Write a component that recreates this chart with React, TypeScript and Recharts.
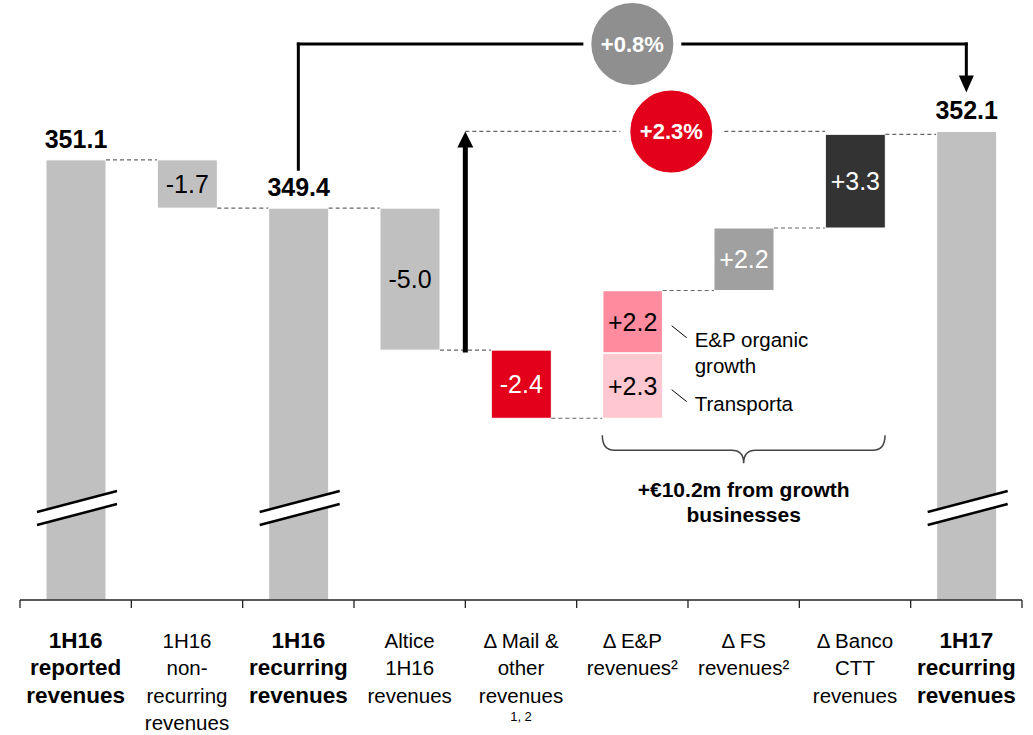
import React from "react";
import { BarChart, Bar, XAxis, YAxis, ReferenceLine, ReferenceDot } from "recharts";

// one entry per column
const categories = [
  "1H16 reported revenues",
  "1H16 non-recurring revenues",
  "1H16 recurring revenues",
  "Altice 1H16 revenues",
  "Δ Mail & other revenues",
  "Δ E&P revenues",
  "Δ FS revenues",
  "Δ Banco CTT revenues",
  "1H17 recurring revenues",
];
const tickLines = [
  ["1H16", "reported", "revenues"],
  ["1H16", "non-", "recurring", "revenues"],
  ["1H16", "recurring", "revenues"],
  ["Altice", "1H16", "revenues"],
  ["Δ Mail &", "other", "revenues"],
  ["Δ E&P", "revenues²"],
  ["Δ FS", "revenues²"],
  ["Δ Banco", "CTT", "revenues"],
  ["1H17", "recurring", "revenues"],
];
const tickNotes = ["", "", "", "", "1, 2", "", "", "", ""];

// €m
const totals = [351.1, null, 349.4, null, null, null, null, null, 352.1];
const deltas = [null, -1.7, null, -5.0, -2.4, 2.3, 2.2, 3.3, null];
const stackedDeltas = [null, null, null, null, null, 2.2, null, null, null];
const deltaNotes = ["", "", "", "", "", "Transporta", "", "", ""];
const stackedNotes = ["", "", "", "", "", "E&P organic|growth", "", "", ""];

const growthTotal = "+0.8%";
const growthExAltice = "+2.3%";
const growthNote = ["+€10.2m from growth", "businesses"];

const segColors = ["#C0C0C0", "#C0C0C0", "#C0C0C0", "#C0C0C0", "#E2001A", "#FFC7CF", "#A0A0A0", "#333333", "#C0C0C0"];
const segText = ["#000", "#000", "#000", "#000", "#fff", "#000", "#fff", "#fff", "#000"];
const stackedColor = "#FF8C9E";

const W = 1033;
const H = 735;
const MARGIN = { top: 0, right: 11, bottom: 0, left: 20 };
const AXIS_H = 135;
const BAR = 60;
const STEP = (W - MARGIN.left - MARGIN.right) / categories.length;
const Y_MIN = 335.6; // axis is broken below this
const Y_MAX = 356.73;
const ARROW_LEVEL = 355.18;
const LABEL_CLEAR = 1.37;
const FONT = '"Liberation Sans", Arial, Helvetica, sans-serif';

let level = 0;
const rows = categories.map((name, i) => {
  const t = totals[i];
  const d = deltas[i] ?? 0;
  const e = stackedDeltas[i] ?? 0;
  let base = 0;
  let seg1 = 0;
  let seg2 = 0;
  if (t !== null) {
    base = Y_MIN;
    seg1 = t - Y_MIN;
    level = t;
  } else if (d < 0) {
    base = level + d;
    seg1 = -d;
    level = base;
  } else {
    base = level;
    seg1 = d;
    seg2 = e;
    level = base + d + e;
  }
  return { name, idx: i, base, seg1, seg2, end: level };
});

const fmt = (v: number) => (v > 0 ? "+" : "") + v.toFixed(1);

function SideNote({ x, cy, text }: { x: number; cy: number; text: string }) {
  const lines = text.split("|");
  return (
    <g>
      <line x1={x + 9} y1={cy + 4} x2={x + 24} y2={cy + 16} stroke="#000" strokeWidth={1} />
      <text x={x + 32} y={cy + 25} fontSize={20.5} fontFamily={FONT} fill="#000">
        {lines.map((l, k) => (
          <tspan key={k} x={x + 32} dy={k === 0 ? 0 : 26}>
            {l}
          </tspan>
        ))}
      </text>
    </g>
  );
}

function BreakMark({ x, width, bottom }: { x: number; width: number; bottom: number }) {
  const l = x - 9;
  const r = x + width + 11;
  const y = bottom - 88;
  return (
    <g>
      <polygon points={`${l},${y} ${r},${y - 21} ${r},${y - 8} ${l},${y + 13}`} fill="#fff" />
      <line x1={l} y1={y} x2={r} y2={y - 21} stroke="#000" strokeWidth={2.5} />
      <line x1={l} y1={y + 13} x2={r} y2={y - 8} stroke="#000" strokeWidth={2.5} />
    </g>
  );
}

function SegShape(props: any) {
  const { x, y, width, height, payload } = props;
  const i = payload.idx;
  const isTotal = totals[i] !== null;
  const d = deltas[i] ?? 0;
  const cx = x + width / 2;
  const endY = isTotal || d > 0 ? y : y + height;
  const connector = i < categories.length - 1 && !(payload.seg2 > 0);
  return (
    <g>
      <rect x={x} y={y} width={width} height={height} fill={segColors[i]} stroke="#fff" strokeWidth={1} />
      {isTotal && <BreakMark x={x} width={width} bottom={y + height} />}
      {isTotal ? (
        <text x={cx} y={y - 12} textAnchor="middle" fontSize={25} fontWeight={700} fontFamily={FONT} fill="#000">
          {(totals[i] as number).toFixed(1)}
        </text>
      ) : (
        <text x={cx} y={y + height / 2} dy="0.36em" textAnchor="middle" fontSize={25} fontFamily={FONT} fill={segText[i]}>
          {fmt(d)}
        </text>
      )}
      {connector && (
        <line x1={x + width} x2={x + STEP} y1={endY} y2={endY} stroke="#666" strokeWidth={1.2} strokeDasharray="4 3" />
      )}
      {deltaNotes[i] && <SideNote x={x + width} cy={y + height / 2} text={deltaNotes[i]} />}
    </g>
  );
}

function StackShape(props: any) {
  const { x, y, width, height, payload } = props;
  if (!payload || !(payload.seg2 > 0)) return <g />;
  const i = payload.idx;
  const cx = x + width / 2;
  return (
    <g>
      <rect x={x} y={y} width={width} height={height} fill={stackedColor} stroke="#fff" strokeWidth={1.5} />
      <text x={cx} y={y + height / 2} dy="0.36em" textAnchor="middle" fontSize={25} fontFamily={FONT} fill="#000">
        {fmt(stackedDeltas[i] as number)}
      </text>
      <line x1={x + width} x2={x + STEP} y1={y} y2={y} stroke="#666" strokeWidth={1.2} strokeDasharray="4 3" />
      {stackedNotes[i] && <SideNote x={x + width} cy={y + height / 2} text={stackedNotes[i]} />}
    </g>
  );
}

// reference line points sit at column centres; dx moves them to a bar edge or a column boundary
const dashedShape = (dx1: number, dx2: number) => (p: any) => (
  <line x1={p.x1 + dx1} y1={p.y1} x2={p.x2 + dx2} y2={p.y2} stroke="#666" strokeWidth={1.2} strokeDasharray="4 3" />
);

const arrowShape = (w: number, head: number, headW: number, dx = 0) => (p: any) => {
  const x1 = p.x1 + dx;
  const x2 = p.x2 + dx;
  const { y1, y2 } = p;
  const len = Math.hypot(x2 - x1, y2 - y1) || 1;
  const ux = (x2 - x1) / len;
  const uy = (y2 - y1) / len;
  const bx = x2 - ux * head;
  const by = y2 - uy * head;
  const px = (-uy * headW) / 2;
  const py = (ux * headW) / 2;
  return (
    <g>
      <line x1={x1} y1={y1} x2={bx} y2={by} stroke="#000" strokeWidth={w} strokeLinecap="square" />
      <polygon points={`${x2},${y2} ${bx + px},${by + py} ${bx - px},${by - py}`} fill="#000" />
    </g>
  );
};

const badge = (text: string, fill: string, r: number, ring: number, dx = 0) => (p: any) => (
  <g>
    <circle cx={p.cx + dx} cy={p.cy} r={r} fill={fill} stroke="#fff" strokeWidth={ring} />
    <text x={p.cx + dx} y={p.cy} dy="0.36em" textAnchor="middle" fontSize={22} fontWeight={700} fontFamily={FONT} fill="#fff">
      {text}
    </text>
  </g>
);

const braceShape = (p: any) => {
  const x1 = p.x1 - BAR / 2;
  const x2 = p.x2 + BAR / 2;
  const y1 = p.y1;
  const top = y1 + 17;
  const mid = y1 + 32;
  const tip = y1 + 45;
  const cx = (x1 + x2) / 2;
  const d = `M${x1},${top} Q${x1},${mid} ${x1 + 12},${mid} L${cx - 12},${mid} Q${cx},${mid} ${cx},${tip} Q${cx},${mid} ${cx + 12},${mid} L${x2 - 12},${mid} Q${x2},${mid} ${x2},${top}`;
  return (
    <g>
      <path d={d} fill="none" stroke="#444" strokeWidth={1.5} />
      <text x={cx} y={y1 + 79} textAnchor="middle" fontSize={21} fontWeight={700} fontFamily={FONT} fill="#000">
        {growthNote.map((l, k) => (
          <tspan key={k} x={cx} dy={k === 0 ? 0 : 25}>
            {l}
          </tspan>
        ))}
      </text>
    </g>
  );
};

function CategoryTick(props: any) {
  const { x, y, payload } = props;
  const i = categories.indexOf(payload.value);
  if (i < 0) return <g />;
  const bold = totals[i] !== null;
  const left = x - STEP / 2;
  const right = x + STEP / 2;
  return (
    <g>
      <line x1={left} y1={y} x2={left} y2={y + 8} stroke="#222" strokeWidth={1.3} />
      {i === categories.length - 1 && <line x1={right} y1={y} x2={right} y2={y + 8} stroke="#222" strokeWidth={1.3} />}
      <text x={x} y={y + 48} textAnchor="middle" fontSize={bold ? 22.5 : 20.5} fontWeight={bold ? 700 : 400} fontFamily={FONT} fill="#000">
        {tickLines[i].map((l, k) => (
          <tspan key={k} x={x} y={y + 48 + k * 27.3}>
            {l}
          </tspan>
        ))}
      </text>
      {tickNotes[i] && (
        <text x={x} y={y + 121} textAnchor="middle" fontSize={13} fontFamily={FONT} fill="#000">
          {tickNotes[i]}
        </text>
      )}
    </g>
  );
}

export default function App() {
  const afterAltice = rows[3].end;
  const lowest = rows[4].end;
  const startTotal = totals[2] as number;
  const finalTotal = totals[8] as number;
  const c = categories;
  return (
    <div style={{ position: "absolute", left: 0, top: 0, width: W, height: H, background: "#fff" }}>
      <BarChart width={W} height={H} data={rows} margin={MARGIN} barSize={BAR}>
        <XAxis
          dataKey="name"
          axisLine={{ stroke: "#222", strokeWidth: 1.3 }}
          tickLine={false}
          tickSize={0}
          tickMargin={0}
          interval={0}
          height={AXIS_H}
          tick={CategoryTick}
        />
        <YAxis hide type="number" domain={[Y_MIN, Y_MAX]} allowDataOverflow />
        <Bar dataKey="base" stackId="w" shape={() => <g />} isAnimationActive={false} />
        <Bar dataKey="seg1" stackId="w" shape={SegShape} isAnimationActive={false} />
        <Bar dataKey="seg2" stackId="w" shape={StackShape} isAnimationActive={false} />

        <ReferenceLine
          segment={[{ x: c[4], y: finalTotal }, { x: c[7], y: finalTotal }]}
          shape={dashedShape(-STEP / 2, -BAR / 2)}
        />
        <ReferenceLine
          segment={[{ x: c[4], y: afterAltice }, { x: c[4], y: finalTotal }]}
          shape={arrowShape(5, 16, 16, -STEP / 2)}
        />
        <ReferenceLine
          segment={[{ x: c[2], y: startTotal + LABEL_CLEAR }, { x: c[2], y: ARROW_LEVEL }]}
          stroke="#000"
          strokeWidth={3}
          strokeLinecap="square"
        />
        <ReferenceLine
          segment={[{ x: c[2], y: ARROW_LEVEL }, { x: c[8], y: ARROW_LEVEL }]}
          stroke="#000"
          strokeWidth={3}
          strokeLinecap="square"
        />
        <ReferenceLine
          segment={[{ x: c[8], y: ARROW_LEVEL }, { x: c[8], y: finalTotal + LABEL_CLEAR }]}
          shape={arrowShape(3, 17, 15)}
        />
        <ReferenceLine segment={[{ x: c[5], y: lowest }, { x: c[7], y: lowest }]} shape={braceShape} />
        <ReferenceDot x={c[5]} y={ARROW_LEVEL} r={45} shape={badge(growthTotal, "#8F8F8F", 45, 8)} />
        <ReferenceDot x={c[5]} y={finalTotal} r={46} shape={badge(growthExAltice, "#E2001A", 46, 10, 0.35 * STEP)} />
      </BarChart>
    </div>
  );
}
